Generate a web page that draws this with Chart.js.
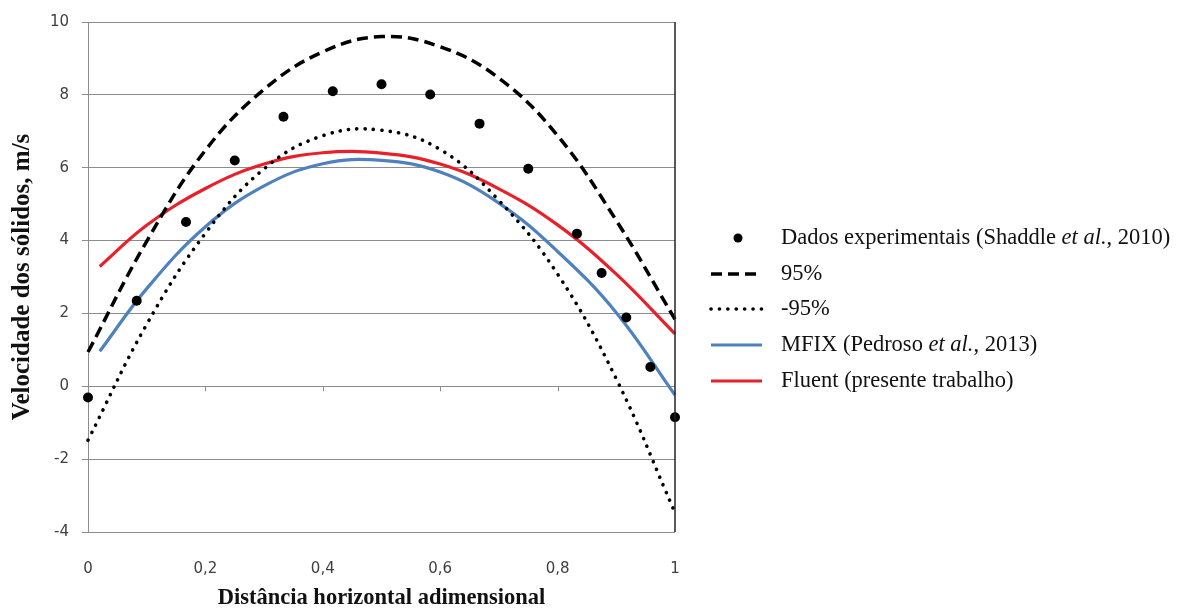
<!DOCTYPE html>
<html lang="pt">
<head>
<meta charset="utf-8">
<title>Velocidade dos sólidos</title>
<script src="https://cdn.jsdelivr.net/npm/chart.js@4.4.1/dist/chart.umd.min.js"></script>
<style>
  html, body { margin: 0; padding: 0; background: #fff; }
  #wrap { width: 1186px; height: 614px; }
</style>
</head>
<body>
<div id="wrap"><canvas id="grafico" width="1186" height="614"></canvas></div>
<script>
// Dados experimentais (Shaddle et al., 2010)
const expX = [0, 0.083, 0.167, 0.25, 0.333, 0.417, 0.5, 0.583, 0.667, 0.75, 0.833, 0.875, 0.917, 0.958, 1];
const expY = [-0.31, 2.35, 4.51, 6.2, 7.4, 8.1, 8.29, 8.01, 7.21, 5.97, 4.19, 3.11, 1.89, 0.53, -0.85];

// limite 95%
const sup95X = [0, 0.1, 0.2, 0.3, 0.4, 0.5, 0.6, 0.7, 0.8, 0.9, 1];
const sup95Y = [0.94, 3.98, 6.48, 8.15, 9.18, 9.6, 9.32, 8.46, 6.88, 4.55, 1.84];

// limite -95%
const inf95X = [0, 0.1, 0.2, 0.3, 0.4, 0.5, 0.6, 0.7, 0.8, 0.9, 1];
const inf95Y = [-1.48, 1.7, 4.2, 5.97, 6.88, 7.03, 6.5, 5.1, 3.08, 0.2, -3.47];

// MFIX (Pedroso et al., 2013)
const mfixX = [0.02, 0.1, 0.2, 0.3, 0.4, 0.5, 0.6, 0.7, 0.8, 0.9, 1];
const mfixY = [0.96, 2.68, 4.38, 5.5, 6.11, 6.2, 5.88, 5.03, 3.7, 2.02, -0.24];

// Fluent (presente trabalho)
const fluentX = [0.02, 0.1, 0.2, 0.3, 0.4, 0.5, 0.6, 0.7, 0.8, 0.9, 1];
const fluentY = [3.29, 4.42, 5.43, 6.1, 6.41, 6.4, 6.1, 5.42, 4.43, 3.08, 1.44];

const legendLabels = [
    'Dados experimentais (Shaddle et al., 2010)',
    '95%',
    '-95%',
    'MFIX (Pedroso et al., 2013)',
    'Fluent (presente trabalho)'
];
const xTickMarks = [0.2, 0.4, 0.6, 0.8];

// juntar x e y em pontos
function pares(xs, ys) {
    return xs.map((x, i) => ({ x: x, y: ys[i] }));
}

// virgula decimal
function virgula(v) {
    return String(Math.round(v * 10) / 10).replace('.', ',');
}

// marcas do eixo x sobre y = 0, borda direita e legenda
const extras = {
    id: 'extras',
    afterDraw: function(chart) {
        const ctx = chart.ctx;
        const xs = chart.scales.x;
        const ys = chart.scales.y;
        const area = chart.chartArea;
        const y0 = ys.getPixelForValue(0);

        ctx.save();
        ctx.strokeStyle = '#8c8c8c';
        ctx.lineWidth = 1;
        xTickMarks.forEach(v => {
            const px = Math.round(xs.getPixelForValue(v)) + 0.5;
            ctx.beginPath();
            ctx.moveTo(px, y0);
            ctx.lineTo(px, y0 + 5);
            ctx.stroke();
        });

        ctx.strokeStyle = '#222';
        ctx.lineWidth = 1.5;
        ctx.beginPath();
        ctx.moveTo(area.right, area.top);
        ctx.lineTo(area.right, area.bottom);
        ctx.stroke();

        // legenda
        const rows = [238, 274, 309, 345, 381];
        const fonteNormal = '22.5px "Liberation Serif", "Times New Roman", serif';
        const fonteItalico = 'italic 22.5px "Liberation Serif", "Times New Roman", serif';
        chart.data.datasets.forEach((ds, i) => {
            const cy = rows[i];
            ctx.save();
            if (ds.showLine === false) {
                ctx.fillStyle = ds.backgroundColor;
                ctx.beginPath();
                ctx.arc(738, cy, 4.5, 0, Math.PI * 2);
                ctx.fill();
            } else {
                ctx.strokeStyle = ds.borderColor;
                ctx.lineWidth = ds.borderWidth;
                ctx.lineCap = ds.borderCapStyle || 'butt';
                ctx.setLineDash(ds.borderDash || []);
                ctx.beginPath();
                ctx.moveTo(711, cy);
                ctx.lineTo(762, cy);
                ctx.stroke();
            }
            ctx.restore();

            ctx.fillStyle = '#111';
            ctx.textBaseline = 'middle';
            ctx.textAlign = 'left';
            const partes = ds.label.split('et al.');
            let px = 781;
            partes.forEach((p, k) => {
                ctx.font = fonteNormal;
                ctx.fillText(p, px, cy);
                px += ctx.measureText(p).width;
                if (k < partes.length - 1) {
                    ctx.font = fonteItalico;
                    ctx.fillText('et al.', px, cy);
                    px += ctx.measureText('et al.').width;
                }
            });
        });
        ctx.restore();
    }
};

const grafico = new Chart(document.getElementById('grafico'), {
    type: 'scatter',
    data: {
        datasets: [{
            label: legendLabels[0],
            data: pares(expX, expY),
            showLine: false,
            pointRadius: 5,
            pointHoverRadius: 5,
            backgroundColor: '#000',
            borderColor: '#000',
            borderWidth: 0,
            order: 0
        }, {
            label: legendLabels[1],
            data: pares(sup95X, sup95Y),
            showLine: true,
            borderColor: '#000',
            borderWidth: 3.5,
            borderDash: [11, 6],
            pointRadius: 0,
            tension: 0.4,
            order: 1
        }, {
            label: legendLabels[2],
            data: pares(inf95X, inf95Y),
            showLine: true,
            borderColor: '#000',
            borderWidth: 3.6,
            borderDash: [0.1, 8.3],
            borderCapStyle: 'round',
            pointRadius: 0,
            tension: 0.4,
            order: 1
        }, {
            label: legendLabels[3],
            data: pares(mfixX, mfixY),
            showLine: true,
            borderColor: '#4f81bd',
            borderWidth: 3.2,
            pointRadius: 0,
            tension: 0.4,
            order: 1
        }, {
            label: legendLabels[4],
            data: pares(fluentX, fluentY),
            showLine: true,
            borderColor: '#e8202a',
            borderWidth: 3.2,
            pointRadius: 0,
            tension: 0.4,
            order: 1
        }]
    },
    options: {
        responsive: false,
        animation: false,
        clip: false,
        layout: { padding: { top: 16, right: 511, left: 0, bottom: 0 } },
        plugins: {
            legend: { display: false },
            tooltip: { enabled: false }
        },
        scales: {
            x: {
                type: 'linear',
                min: 0,
                max: 1,
                grid: { display: false },
                border: { display: false },
                ticks: {
                    stepSize: 0.2,
                    padding: 20,
                    color: '#404040',
                    font: { family: '"DejaVu Sans", Verdana, sans-serif', size: 15 },
                    callback: v => virgula(v)
                },
                title: {
                    display: true,
                    text: 'Distância horizontal adimensional',
                    color: '#111',
                    font: { family: '"Liberation Serif", "Times New Roman", serif', size: 22.5, weight: 'bold' },
                    padding: { top: 0, bottom: 2 }
                },
                afterFit: function(scale) { scale.height = 82; }
            },
            y: {
                min: -4,
                max: 10,
                grid: { color: '#8c8c8c', lineWidth: 1, tickLength: 6 },
                border: { color: '#8c8c8c', width: 1 },
                ticks: {
                    stepSize: 2,
                    padding: 13,
                    color: '#404040',
                    font: { family: '"DejaVu Sans", Verdana, sans-serif', size: 15 },
                    callback: v => virgula(v)
                },
                title: {
                    display: true,
                    text: 'Velocidade dos sólidos, m/s',
                    color: '#111',
                    font: { family: '"Liberation Serif", "Times New Roman", serif', size: 25, weight: 'bold' },
                    padding: { top: 8, bottom: 0 }
                },
                afterFit: function(scale) { scale.width = 88; }
            }
        }
    },
    plugins: [extras]
});
</script>
</body>
</html>
